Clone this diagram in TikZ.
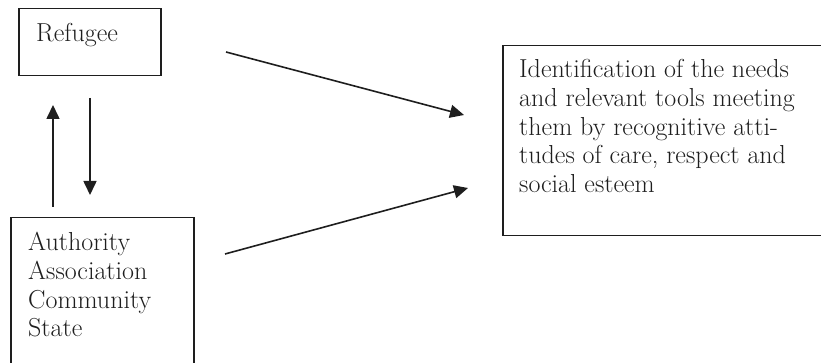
\documentclass[tikz,border=0pt]{standalone}
\usetikzlibrary{arrows.meta}
\definecolor{ink}{HTML}{1E1E1E}
\tikzset{
  boxshape/.style={draw=ink, line width=1.5pt, rectangle, inner sep=0pt, anchor=north west},
  boxtext/.style={anchor=base west, inner sep=0pt, text=ink, font=\fontsize{26}{28.6}\selectfont},
  conn/.style={draw=ink, line width=1.6pt, -{Triangle[length=14pt,width=13pt]}}
}
\begin{document}
\begin{tikzpicture}[x=1pt,y=-1pt]
\useasboundingbox (0,0) rectangle (821,363);
\node[boxshape, minimum width=142pt, minimum height=67pt] (refbox) at (18,8) {};
\node[boxshape, minimum width=183pt, minimum height=170pt] (authbox) at (10,217) {};
\node[boxshape, minimum width=340pt, minimum height=190pt] (idbox) at (502,45) {};
\node[boxtext] (reftext) at (36,42) {Refugee};
\node[boxtext] (authtext) at (28,251) {\begin{tabular}[t]{@{}l@{}}Authority\\Association\\Community\\State\end{tabular}};
\node[boxtext] (idtext) at (519,78) {\begin{tabular}[t]{@{}l@{}}Identification of the needs\\and relevant tools meeting\\them by recognitive atti-\\tudes of care, respect and\\social esteem\end{tabular}};
\coordinate (upS) at (53,207);
\coordinate (upE) at (53,105);
\coordinate (dnS) at (90,98);
\coordinate (dnE) at (90,195);
\coordinate (t1S) at (226,52);
\coordinate (t1E) at (464,115);
\coordinate (t2S) at (225,254);
\coordinate (t2E) at (468,188);
\draw[conn] (upS) -- (upE);
\draw[conn] (dnS) -- (dnE);
\draw[conn] (t1S) -- (t1E);
\draw[conn] (t2S) -- (t2E);
\end{tikzpicture}
\end{document}
